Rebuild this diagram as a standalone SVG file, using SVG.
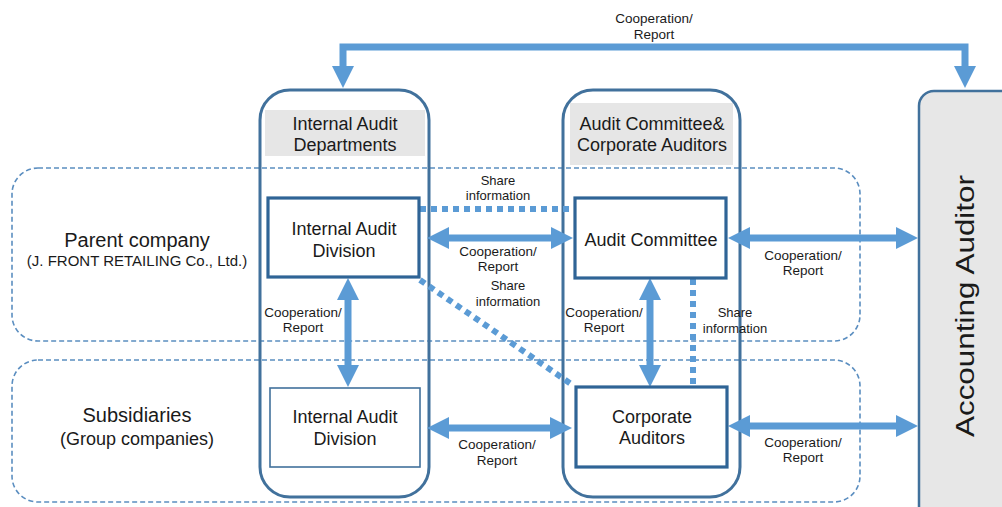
<svg xmlns="http://www.w3.org/2000/svg" width="1002" height="507" viewBox="0 0 1002 507">
<style>
text{font-family:"Liberation Sans",Arial,sans-serif;fill:#1a1a1a;text-anchor:middle}
.region{fill:none;stroke:#5b8ec0;stroke-width:1.6;stroke-dasharray:5 3}
.cont{fill:none;stroke:#41719c;stroke-width:3}
.hdr{fill:#e6e6e6}
.box{fill:#fff;stroke:#2f6496;stroke-width:3.2}
.boxthin{fill:#fff;stroke:#41719c;stroke-width:1.6}
.arr{fill:none;stroke:#5b9bd5;stroke-width:7;marker-start:url(#ah);marker-end:url(#ah)}
.dot{fill:none;stroke:#5b9bd5;stroke-width:6;stroke-dasharray:6 5}
.lbl{font-size:13.5px}
.sh{font-size:13px}
.big{font-size:18px}
.grp{font-size:20px}
</style>
<defs>
<marker id="ah" markerUnits="userSpaceOnUse" markerWidth="22" markerHeight="22" refX="2" refY="11" orient="auto-start-reverse" viewBox="0 0 22 22">
<path d="M0,0 L22,11 L0,22 Z" fill="#5b9bd5"/>
</marker>
</defs>

<g id="regions">
<rect class="region" x="12" y="168" width="848" height="173" rx="26"/>
<rect class="region" x="12" y="360" width="848" height="142" rx="26"/>
</g>

<g id="parent-label">
<text class="grp" x="137" y="247">Parent company</text>
<text x="137" y="266" style="font-size:15px">(J. FRONT RETAILING Co., Ltd.)</text>
</g>
<g id="subsidiaries-label">
<text class="grp" x="137" y="422">Subsidiaries</text>
<text x="137" y="445" style="font-size:18px">(Group companies)</text>
</g>

<g id="internal-audit-departments">
<rect class="cont" x="260" y="90" width="169" height="407" rx="30"/>
<rect class="hdr" x="265" y="110" width="160" height="46"/>
<text class="big" x="345" y="130">Internal Audit</text>
<text class="big" x="345" y="151">Departments</text>
</g>

<g id="audit-committee-corporate-auditors">
<rect class="cont" x="563" y="90" width="177" height="407" rx="30"/>
<rect class="hdr" x="570" y="103" width="163" height="62"/>
<text class="big" x="652" y="130">Audit Committee&amp;</text>
<text class="big" x="652" y="151">Corporate Auditors</text>
</g>

<g id="accounting-auditor">
<rect x="919" y="91" width="110" height="440" rx="15" fill="#e7e7e7" stroke="#41719c" stroke-width="2.5"/>
<text transform="translate(974,306) rotate(-90)" style="font-size:26px" textLength="262" lengthAdjust="spacingAndGlyphs">Accounting Auditor</text>
</g>

<g id="connectors">
<path class="arr" d="M343,68 V47 H965 V68"/>
<line class="arr" x1="447" y1="238" x2="553" y2="238"/>
<line class="arr" x1="748" y1="238" x2="898" y2="238"/>
<line class="arr" x1="348" y1="298" x2="348" y2="367"/>
<line class="arr" x1="650" y1="298" x2="650" y2="367"/>
<line class="arr" x1="447" y1="428" x2="552" y2="428"/>
<line class="arr" x1="748" y1="426" x2="898" y2="426"/>
<line class="dot" x1="420" y1="209" x2="575" y2="209"/>
<line class="dot" x1="420" y1="280" x2="574" y2="386"/>
<line class="dot" x1="693" y1="279" x2="693" y2="387"/>
<text class="lbl" x="654" y="23">Cooperation/</text>
<text class="lbl" x="654" y="39">Report</text>
<text class="sh" x="498" y="185">Share</text>
<text class="sh" x="498" y="200">information</text>
<text class="lbl" x="498" y="256">Cooperation/</text>
<text class="lbl" x="498" y="271">Report</text>
<text class="sh" x="508" y="290">Share</text>
<text class="sh" x="508" y="306">information</text>
<text class="lbl" x="303" y="317">Cooperation/</text>
<text class="lbl" x="303" y="332">Report</text>
<text class="lbl" x="604" y="317">Cooperation/</text>
<text class="lbl" x="604" y="332">Report</text>
<text class="sh" x="735" y="317">Share</text>
<text class="sh" x="735" y="333">information</text>
<text class="lbl" x="803" y="260">Cooperation/</text>
<text class="lbl" x="803" y="275">Report</text>
<text class="lbl" x="497" y="449">Cooperation/</text>
<text class="lbl" x="497" y="465">Report</text>
<text class="lbl" x="803" y="447">Cooperation/</text>
<text class="lbl" x="803" y="462">Report</text>
</g>

<g id="iad-parent">
<rect class="box" x="268" y="198" width="151" height="79"/>
<text class="big" x="344" y="235">Internal Audit</text>
<text class="big" x="344" y="257">Division</text>
</g>
<g id="iad-sub">
<rect class="boxthin" x="270" y="388" width="150" height="79"/>
<text class="big" x="345" y="423">Internal Audit</text>
<text class="big" x="345" y="445">Division</text>
</g>
<g id="audit-committee">
<rect class="box" x="575" y="198" width="151" height="80"/>
<text class="big" x="651" y="246">Audit Committee</text>
</g>
<g id="corporate-auditors">
<rect class="box" x="576" y="387" width="151" height="80"/>
<text class="big" x="652" y="423">Corporate</text>
<text class="big" x="652" y="444">Auditors</text>
</g>
</svg>
